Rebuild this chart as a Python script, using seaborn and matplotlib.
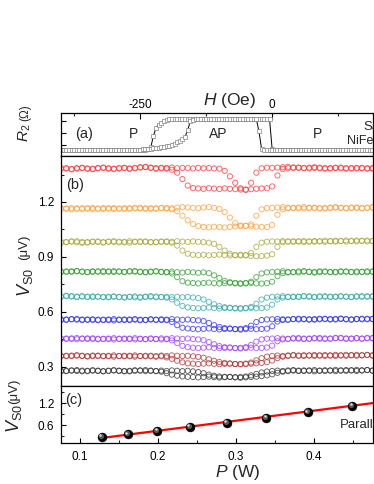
#!/usr/bin/env python3
"""
Spin-pumping voltage V_S0 vs field H at several microwave powers,
with the R2 loop on top and the power dependence at the bottom.
"""
import numpy as np
import matplotlib
matplotlib.use("Agg")
import matplotlib.pyplot as plt
import matplotlib.transforms as mtransforms
from matplotlib.ticker import MultipleLocator, FixedLocator
import seaborn as sns

sns.set_theme(style="ticks")
plt.rcParams['font.family'] = ['Liberation Sans', 'DejaVu Sans']
plt.rcParams['mathtext.fontset'] = 'custom'
plt.rcParams['mathtext.rm'] = 'Liberation Sans'
plt.rcParams['mathtext.it'] = 'Liberation Sans:italic'
plt.rcParams['mathtext.bf'] = 'Liberation Sans:bold'
plt.rcParams['axes.unicode_minus'] = False

# ---------------- data ----------------
# (a) R2 loop, field grid -400..190 Oe every 5 Oe
h_a = np.arange(-400, 191, 5)
r2_up = [
    0, 0, 0, 0, 0, 0, 0, 0, 0, 0,                     # -400..-355
    0, 0, 0, 0, 0, 0, 0, 0, 0, 0,                     # -350..-305
    0, 0, 0, 0, 0, 0, 0, 0, 0, 0,                     # -300..-255
    0, 0, 0, .02, .08, .45, .72, .82, .89, .94,       # -250..-205
    .97, .99, 1, 1, 1, 1, 1, 1, 1, 1,                 # -200..-155
    1, 1, 1, 1, 1, 1, 1, 1, 1, 1,                     # -150..-105
    1, 1, 1, 1, 1, 1, 1, 1, 1, 1,                     # -100..-55
    1, 1, 1, 1, 1, 1, 1, 1, 1, 1,                     # -50..-5
    .02, 0, 0, 0, 0, 0, 0, 0, 0, 0,                   # 0..45
    0, 0, 0, 0, 0, 0, 0, 0, 0, 0,                     # 50..95
    0, 0, 0, 0, 0, 0, 0, 0, 0, 0,                     # 100..145
    0, 0, 0, 0, 0, 0, 0, 0, 0,                        # 150..190
]
r2_down = [
    0, 0, 0, 0, 0, 0, 0, 0, 0, 0,                     # -400..-355
    0, 0, 0, 0, 0, 0, 0, 0, 0, 0,                     # -350..-305
    0, 0, 0, 0, 0, 0, 0, 0, 0, 0,                     # -300..-255
    .01, .015, .02, .03, .04, .05, .06, .07, .08, .1,  # -250..-205
    .12, .14, .17, .2, .24, .3, .35, .42, .65, .93,   # -200..-155
    .98, 1, 1, 1, 1, 1, 1, 1, 1, 1,                   # -150..-105
    1, 1, 1, 1, 1, 1, 1, 1, 1, 1,                     # -100..-55
    1, 1, 1, 1, 1, .6, .02, 0, 0, 0,                  # -50..-5
    0, 0, 0, 0, 0, 0, 0, 0, 0, 0,                     # 0..45
    0, 0, 0, 0, 0, 0, 0, 0, 0, 0,                     # 50..95
    0, 0, 0, 0, 0, 0, 0, 0, 0, 0,                     # 100..145
    0, 0, 0, 0, 0, 0, 0, 0, 0,                        # 150..190
]

# (b) V_S0 (uV) vs H, grid -400..190 Oe every 10 Oe, two sweep branches per power
h_b = np.arange(-400, 191, 10)

red_1 = [1.380, 1.383, 1.378, 1.382, 1.385, 1.381, 1.379, 1.384, 1.386, 1.382,
         1.380, 1.383, 1.385, 1.381, 1.384, 1.388, 1.390, 1.386, 1.381, 1.384,
         1.382, 1.376, 1.360, 1.325, 1.290, 1.276,
         1.274, 1.272, 1.275, 1.273, 1.271, 1.274, 1.272, 1.270, 1.268, 1.266, 1.270, 1.272, 1.274, 1.275,
         1.285, 1.345, 1.380,
         1.384, 1.386, 1.388, 1.385, 1.383, 1.386, 1.384, 1.382, 1.385, 1.387, 1.384, 1.382, 1.385, 1.383,
         1.386, 1.384, 1.382]
red_2 = [1.386, 1.384, 1.381, 1.385, 1.387, 1.383, 1.382, 1.386, 1.388, 1.384,
         1.382, 1.385, 1.387, 1.383, 1.386, 1.390, 1.392, 1.388, 1.385, 1.387,
         1.386, 1.388, 1.384, 1.386, 1.385, 1.383, 1.386, 1.384, 1.385, 1.383,
         1.382, 1.370, 1.340, 1.305, 1.275, 1.268, 1.305, 1.360, 1.384,
         1.387, 1.386,
         1.388, 1.390, 1.392, 1.389, 1.387, 1.385, 1.388, 1.390, 1.387, 1.385, 1.383, 1.386, 1.388, 1.385,
         1.383, 1.386, 1.384, 1.382, 1.385]

orange_1 = [1.162, 1.165, 1.160, 1.163, 1.166, 1.164, 1.161, 1.163, 1.167, 1.165,
            1.162, 1.164, 1.166, 1.163, 1.165, 1.168, 1.166, 1.163, 1.165, 1.167,
            1.164, 1.160, 1.150, 1.125, 1.100, 1.080, 1.068,
            1.064, 1.062, 1.065, 1.063, 1.061, 1.064, 1.066, 1.068, 1.070, 1.068, 1.066, 1.064, 1.063,
            1.075, 1.130, 1.160,
            1.165, 1.168, 1.166, 1.164, 1.167, 1.169, 1.166, 1.164, 1.167, 1.170, 1.168, 1.165, 1.167, 1.169,
            1.166, 1.168, 1.170]
orange_2 = [1.166, 1.163, 1.167, 1.165, 1.162, 1.166, 1.168, 1.164, 1.162, 1.165,
            1.167, 1.164, 1.162, 1.166, 1.168, 1.165, 1.163, 1.166, 1.164, 1.167,
            1.168, 1.166, 1.170, 1.172, 1.170, 1.168, 1.166, 1.170, 1.172, 1.168, 1.162,
            1.145, 1.115, 1.085, 1.072, 1.070, 1.078, 1.125, 1.160, 1.166, 1.168,
            1.170, 1.172, 1.169, 1.167, 1.170, 1.172, 1.169, 1.167, 1.165, 1.168, 1.170, 1.172, 1.169, 1.167,
            1.170, 1.168, 1.166, 1.169, 1.171]

olive_1 = [0.978, 0.982, 0.985, 0.980, 0.977, 0.981, 0.984, 0.982, 0.979, 0.983,
           0.986, 0.984, 0.980, 0.978, 0.982, 0.985, 0.983, 0.980, 0.982, 0.984,
           0.982, 0.978, 0.962, 0.935, 0.918, 0.912,
           0.910, 0.912, 0.909, 0.911, 0.913, 0.910, 0.908, 0.910, 0.912, 0.909, 0.906, 0.904, 0.905, 0.907,
           0.915, 0.955, 0.980,
           0.983, 0.986, 0.984, 0.981, 0.984, 0.987, 0.985, 0.983, 0.986, 0.989, 0.987, 0.984, 0.986, 0.990,
           0.988, 0.985, 0.987]
olive_2 = [0.983, 0.980, 0.984, 0.986, 0.982, 0.979, 0.983, 0.985, 0.981, 0.984,
           0.982, 0.980, 0.983, 0.986, 0.984, 0.981, 0.984, 0.982, 0.980, 0.983,
           0.985, 0.983, 0.986, 0.984, 0.982, 0.985, 0.983, 0.981, 0.978,
           0.972, 0.955, 0.935, 0.918, 0.910, 0.908, 0.910, 0.922, 0.955, 0.978, 0.983, 0.985,
           0.984, 0.987, 0.985, 0.983, 0.986, 0.988, 0.985, 0.983, 0.986, 0.989, 0.986, 0.984, 0.987, 0.990,
           0.988, 0.985, 0.988, 0.990, 0.987]

green_1 = [0.818, 0.821, 0.819, 0.822, 0.820, 0.817, 0.819, 0.821, 0.823, 0.820,
           0.818, 0.821, 0.819, 0.822, 0.820, 0.818, 0.816, 0.819, 0.821, 0.818,
           0.816, 0.810, 0.790, 0.768, 0.760,
           0.758, 0.756, 0.758, 0.760, 0.757, 0.755, 0.757, 0.759, 0.756, 0.754, 0.756, 0.758, 0.756, 0.755,
           0.757,
           0.765, 0.795, 0.812,
           0.815, 0.818, 0.816, 0.820, 0.818, 0.815, 0.817, 0.820, 0.818, 0.816, 0.819, 0.821, 0.818, 0.816,
           0.819, 0.817, 0.820]
green_2 = [0.821, 0.819, 0.822, 0.824, 0.820, 0.818, 0.822, 0.820, 0.818, 0.821,
           0.823, 0.820, 0.818, 0.821, 0.823, 0.820, 0.818, 0.820, 0.822, 0.819,
           0.818, 0.820, 0.817, 0.815, 0.818, 0.816, 0.814, 0.816,
           0.812, 0.800, 0.785, 0.770, 0.762, 0.758, 0.756, 0.758, 0.765, 0.790, 0.810, 0.816, 0.818,
           0.820, 0.822, 0.819, 0.817, 0.821, 0.823, 0.820, 0.818, 0.822, 0.820, 0.817, 0.819, 0.822, 0.820,
           0.818, 0.821, 0.819, 0.822, 0.820]

teal_1 = [0.686, 0.689, 0.687, 0.684, 0.686, 0.683, 0.681, 0.684, 0.682, 0.680,
          0.683, 0.681, 0.679, 0.682, 0.680, 0.678, 0.681, 0.683, 0.680, 0.682,
          0.678, 0.668, 0.650, 0.633, 0.625,
          0.622, 0.620, 0.622, 0.624, 0.621, 0.619, 0.621, 0.623, 0.620, 0.618, 0.620, 0.622, 0.620, 0.621,
          0.624,
          0.640, 0.668, 0.678,
          0.681, 0.684, 0.682, 0.685, 0.683, 0.680, 0.683, 0.686, 0.684, 0.682, 0.685, 0.683, 0.681, 0.684,
          0.686, 0.683, 0.685]
teal_2 = [0.683, 0.686, 0.684, 0.681, 0.684, 0.682, 0.685, 0.683, 0.680, 0.683,
          0.685, 0.682, 0.680, 0.683, 0.685, 0.682, 0.684, 0.686, 0.684, 0.681,
          0.683, 0.681, 0.683, 0.680, 0.682, 0.679,
          0.676, 0.668, 0.655, 0.642, 0.632, 0.626, 0.622, 0.620, 0.620, 0.622, 0.628, 0.645, 0.668, 0.678,
          0.682,
          0.684, 0.686, 0.683, 0.681, 0.684, 0.687, 0.685, 0.682, 0.685, 0.683, 0.681, 0.684, 0.686, 0.684,
          0.682, 0.685, 0.683, 0.686, 0.684]

blue_1 = [0.556, 0.559, 0.561, 0.558, 0.556, 0.559, 0.557, 0.555, 0.558, 0.556,
          0.554, 0.557, 0.559, 0.556, 0.558, 0.555, 0.557, 0.560, 0.558, 0.556,
          0.555, 0.546, 0.528, 0.514, 0.510,
          0.508, 0.506, 0.508, 0.510, 0.507, 0.505, 0.507, 0.509, 0.506, 0.504, 0.506, 0.508, 0.506, 0.507,
          0.509,
          0.522, 0.548, 0.556,
          0.558, 0.561, 0.559, 0.562, 0.560, 0.558, 0.560, 0.563, 0.561, 0.559, 0.562, 0.560, 0.558, 0.561,
          0.563, 0.560, 0.562]
blue_2 = [0.559, 0.557, 0.560, 0.562, 0.559, 0.557, 0.560, 0.558, 0.556, 0.559,
          0.561, 0.558, 0.556, 0.559, 0.561, 0.558, 0.556, 0.559, 0.557, 0.560,
          0.558, 0.561, 0.559, 0.557, 0.559, 0.556, 0.554,
          0.550, 0.540, 0.528, 0.518, 0.512, 0.509, 0.507, 0.508, 0.512, 0.525, 0.545, 0.556, 0.559, 0.560,
          0.562, 0.560, 0.558, 0.561, 0.563, 0.560, 0.558, 0.561, 0.563, 0.561, 0.559, 0.562, 0.564, 0.561,
          0.559, 0.562, 0.560, 0.563, 0.561]

purple_1 = [0.452, 0.455, 0.453, 0.451, 0.454, 0.456, 0.453, 0.451, 0.454, 0.452,
            0.450, 0.453, 0.455, 0.452, 0.450, 0.453, 0.451, 0.454, 0.452, 0.450,
            0.451, 0.445, 0.430, 0.415, 0.408,
            0.405, 0.403, 0.405, 0.407, 0.404, 0.402, 0.404, 0.406, 0.403, 0.401, 0.403, 0.405, 0.403, 0.404,
            0.406,
            0.416, 0.440, 0.450,
            0.453, 0.456, 0.454, 0.452, 0.455, 0.457, 0.454, 0.452, 0.455, 0.458, 0.456, 0.453, 0.455, 0.457,
            0.454, 0.456, 0.458]
purple_2 = [0.455, 0.453, 0.456, 0.458, 0.455, 0.453, 0.456, 0.454, 0.452, 0.455,
            0.457, 0.454, 0.452, 0.455, 0.457, 0.454, 0.452, 0.455, 0.453, 0.456,
            0.454, 0.457, 0.455, 0.453, 0.455, 0.452, 0.450,
            0.446, 0.436, 0.424, 0.414, 0.408, 0.405, 0.403, 0.404, 0.408, 0.420, 0.438, 0.450, 0.454, 0.455,
            0.457, 0.455, 0.453, 0.456, 0.458, 0.455, 0.453, 0.456, 0.458, 0.456, 0.454, 0.457, 0.459, 0.456,
            0.454, 0.457, 0.455, 0.458, 0.456]

brown_1 = [0.358, 0.361, 0.359, 0.362, 0.360, 0.357, 0.359, 0.362, 0.360, 0.358,
           0.356, 0.359, 0.361, 0.358, 0.356, 0.359, 0.361, 0.358, 0.356, 0.358,
           0.352, 0.344, 0.334, 0.325, 0.320,
           0.318, 0.316, 0.318, 0.320, 0.317, 0.315, 0.317, 0.319, 0.316, 0.314, 0.316, 0.318, 0.320, 0.322,
           0.326,
           0.335, 0.348, 0.356,
           0.360, 0.363, 0.361, 0.364, 0.362, 0.360, 0.363, 0.365, 0.362, 0.360, 0.363, 0.366, 0.364, 0.361,
           0.364, 0.366, 0.363]
brown_2 = [0.361, 0.359, 0.362, 0.364, 0.361, 0.359, 0.362, 0.360, 0.358, 0.361,
           0.363, 0.360, 0.358, 0.361, 0.363, 0.360, 0.358, 0.361, 0.359, 0.362,
           0.360, 0.363, 0.361, 0.359, 0.361, 0.358, 0.355,
           0.350, 0.342, 0.334, 0.327, 0.322, 0.318, 0.316, 0.316, 0.318, 0.324, 0.336, 0.348, 0.356, 0.360,
           0.362, 0.360, 0.363, 0.365, 0.362, 0.360, 0.363, 0.365, 0.362, 0.360, 0.363, 0.366, 0.363, 0.361,
           0.364, 0.366, 0.363, 0.365, 0.362]

black_1 = [0.276, 0.279, 0.281, 0.278, 0.276, 0.279, 0.282, 0.280, 0.277, 0.279,
           0.282, 0.280, 0.278, 0.276, 0.279, 0.281, 0.283, 0.280, 0.278, 0.274,
           0.266, 0.258, 0.252, 0.248,
           0.246, 0.245, 0.243, 0.245, 0.247, 0.244, 0.242, 0.244, 0.246, 0.243, 0.241, 0.243, 0.245, 0.247,
           0.250, 0.254,
           0.260, 0.268, 0.274,
           0.277, 0.280, 0.278, 0.281, 0.279, 0.276, 0.279, 0.282, 0.280, 0.277, 0.280, 0.283, 0.281, 0.278,
           0.281, 0.283, 0.280]
black_2 = [0.279, 0.277, 0.280, 0.283, 0.280, 0.277, 0.280, 0.278, 0.276, 0.279,
           0.281, 0.278, 0.276, 0.279, 0.282, 0.280, 0.277, 0.279, 0.277, 0.280,
           0.278, 0.281, 0.279, 0.277, 0.279, 0.276,
           0.272, 0.266, 0.258, 0.252, 0.248, 0.246, 0.245, 0.244, 0.245, 0.248, 0.254, 0.262, 0.270, 0.275,
           0.278,
           0.280, 0.278, 0.281, 0.283, 0.280, 0.278, 0.281, 0.283, 0.280, 0.278, 0.281, 0.284, 0.281, 0.279,
           0.282, 0.284, 0.281, 0.283, 0.280]

curve_colors = ['#ff3b3b', '#ffa040', '#a8a83c', '#35a035', '#3aabab',
                '#3030ff', '#a040ff', '#b03838', '#3a3a3a']
curves = [(red_1, red_2), (orange_1, orange_2), (olive_1, olive_2),
          (green_1, green_2), (teal_1, teal_2), (blue_1, blue_2),
          (purple_1, purple_2), (brown_1, brown_2), (black_1, black_2)]

# (c) V_S0 in parallel state vs microwave power
power_w = [0.128, 0.161, 0.199, 0.241, 0.288, 0.339, 0.392, 0.449, 0.520]
v_par = [0.28, 0.35, 0.44, 0.55, 0.66, 0.79, 0.95, 1.12, 1.37]

# ---------------- figure ----------------
W, H = 374, 484
fig = plt.figure(figsize=(W / 100, H / 100), dpi=100)


def rect(x0, y0, x1, y1):
    """Axes rectangle from pixel box (top-left origin)."""
    return [x0 / W, 1 - y1 / H, (x1 - x0) / W, (y1 - y0) / H]


def ptext(x, y, s, **kw):
    fig.text(x / W, 1 - y / H, s, **kw)


ax_a = fig.add_axes(rect(61, 113, 373, 156))
ax_b = fig.add_axes(rect(61, 156, 373, 386))
ax_c = fig.add_axes(rect(61, 386, 373, 443))

for ax in (ax_a, ax_b, ax_c):
    for sp in ax.spines.values():
        sp.set_linewidth(0.9)
        sp.set_color('black')
    ax.tick_params(which='major', direction='in', length=3.5, width=0.8,
                   labelsize=8.5, colors='black', pad=5)
    ax.tick_params(which='minor', direction='in', length=2, width=0.8)

# (a) R2 hysteresis
for r in (r2_up, r2_down):
    sns.lineplot(x=h_a, y=r, ax=ax_a, color='black', lw=0.7, sort=False,
                 estimator=None, marker='s', markersize=2.3,
                 markerfacecolor='white', markeredgecolor='#777777',
                 markeredgewidth=0.45)
ax_a.set_xlim(-400, 191)
ax_a.set_ylim(-0.2, 1.2)
ax_a.xaxis.tick_top()
ax_a.xaxis.set_major_locator(MultipleLocator(250))
ax_a.xaxis.set_minor_locator(MultipleLocator(125))
ax_a.tick_params(axis='x', which='both', top=True, bottom=False,
                 labeltop=True, labelbottom=False, pad=1.5)
ax_a.tick_params(axis='x', which='major', length=4.5)
ax_a.set_yticks([0.15, 0.55, 0.95])
ax_a.set_yticklabels([])
ax_a.tick_params(axis='y', left=True, right=False)

# (b) V_S0 vs H
for col, (b1, b2) in zip(curve_colors, curves):
    for vals in (b1, b2):
        sns.scatterplot(x=h_b, y=vals, ax=ax_b, marker='o', s=14,
                        color=col, facecolor='none', edgecolor=col,
                        linewidth=0.65, alpha=0.8, legend=False)
ax_b.set_xlim(-400, 191)
ax_b.set_ylim(0.196, 1.451)
ax_b.tick_params(axis='x', which='both', bottom=False, top=False,
                 labelbottom=False)
ax_b.yaxis.set_major_locator(MultipleLocator(0.3))
ax_b.yaxis.set_minor_locator(MultipleLocator(0.15))
ax_b.tick_params(axis='y', which='both', left=True, right=False)

# (c) V_S0 vs P
sns.regplot(x=power_w, y=v_par, ax=ax_c, scatter=False, ci=None,
            truncate=True, line_kws=dict(color='#ff0000', lw=1.6, zorder=2))
sns.scatterplot(x=power_w, y=v_par, ax=ax_c, s=42, color='black',
                edgecolor='black', linewidth=0.3, zorder=3, legend=False)
for size, shade, off in ((14, '#5a5a5a', 1.0), (3, '#e0e0e0', 1.6)):
    sns.scatterplot(x=power_w, y=v_par, ax=ax_c, s=size, color=shade,
                    linewidth=0, zorder=4, legend=False)
    ax_c.collections[-1].set_offset_transform(
        ax_c.transData + mtransforms.ScaledTranslation(-off / 100, off / 100,
                                                       fig.dpi_scale_trans))
ax_c.set_xlim(0.0756, 0.4756)
ax_c.set_ylim(0.11, 1.664)
ax_c.xaxis.set_major_locator(MultipleLocator(0.1))
ax_c.xaxis.set_minor_locator(MultipleLocator(0.05))
ax_c.yaxis.set_major_locator(FixedLocator([0.6, 1.2]))
ax_c.yaxis.set_minor_locator(FixedLocator([0.3, 0.9, 1.5]))
ax_c.tick_params(axis='x', which='both', bottom=True, top=False, pad=5.5)
ax_c.tick_params(axis='y', which='both', left=True, right=False)
for ax in (ax_a, ax_b, ax_c):
    ax.set_xlabel('')
    ax.set_ylabel('')

# labels and annotations
ptext(230, 101, r'$H$ (Oe)', fontsize=12.5, ha='center', va='center')
ptext(238, 473, r'$P$ (W)', fontsize=12.5, ha='center', va='center')

ptext(25, 142, r'$R_2$', fontsize=11, rotation=90, ha='center', va='bottom')
ptext(25, 121, '(Ω)', fontsize=8.5, rotation=90, ha='center', va='bottom')
ptext(25, 297, r'$V_{\mathrm{S0}}$', fontsize=13, rotation=90, ha='center', va='bottom')
ptext(24, 260, '(μV)', fontsize=9.5, rotation=90, ha='center', va='bottom')
ptext(14, 433, r'$V_{\mathrm{S0}}$', fontsize=13, rotation=90, ha='center', va='bottom')
ptext(14, 404, '(μV)', fontsize=9.5, rotation=90, ha='center', va='bottom')

ptext(84, 134, '(a)', fontsize=10.5, ha='center', va='center')
ptext(133, 134, 'P', fontsize=10, ha='center', va='center')
ptext(218, 134, 'AP', fontsize=10, ha='center', va='center')
ptext(318, 134, 'P', fontsize=10, ha='center', va='center')
ptext(363, 127, 'Sample', fontsize=9.5, ha='left', va='center')
ptext(347, 141, 'NiFe/Pt', fontsize=9, ha='left', va='center')
ptext(75, 185, '(b)', fontsize=10.5, ha='center', va='center')
ptext(74, 400, '(c)', fontsize=10.5, ha='center', va='center')
ptext(340, 425, 'Parallel', fontsize=9.5, ha='left', va='center')

fig.savefig('out.png', dpi=100)
